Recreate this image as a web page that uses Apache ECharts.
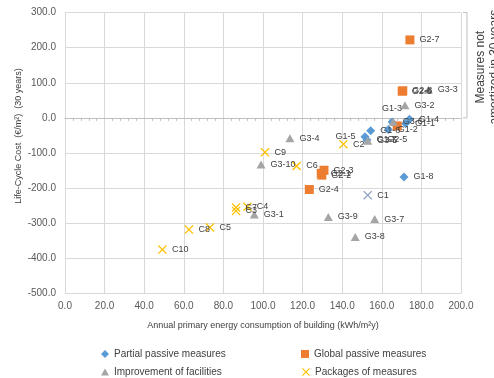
<!DOCTYPE html>
<html><head><meta charset="utf-8">
<script src="https://cdn.jsdelivr.net/npm/echarts@6/dist/echarts.min.js"></script>
<style>html,body{margin:0;padding:0;background:#fff}#c{width:494px;height:378px}</style>
</head><body><div id="c"></div>
<script>
// ---- data ----
const seriesNames = ['Partial passive measures', 'Global passive measures', 'Improvement of facilities', 'Packages of measures'];

const partialNames = ['G1-1','G1-2','G1-3','G1-4','G1-5','G1-6','G1-7','G1-8'];
const partialX     = [172.0, 163.3, 165.2, 174.0, 151.5, 154.4, 152.5, 171.2];
const partialY     = [-16, -33, -12, -4, -54, -37, -63, -168];

const globalNames = ['G2-1','G2-2','G2-3','G2-4','G2-5','G2-6','G2-7','G2-8'];
const globalX     = [129.4, 129.7, 130.8, 123.4, 167.8, 170.3, 174.2, 170.6];
const globalY     = [-158, -163, -149, -204, -23, 76, 222, 77];

const facilNames = ['G3-1','G3-2','G3-3','G3-4','G3-5','G3-6','G3-7','G3-8','G3-9','G3-10'];
const facilX     = [95.6, 171.7, 183.5, 113.6, 152.9, 165.8, 156.4, 146.6, 133.0, 99.0];
const facilY     = [-275, 36, 80, -58, -65, -11, -288, -339, -282, -133];

const packNames = ['C1','C2','C3','C4','C5','C6','C7','C8','C9','C10'];
const packX     = [152.9, 140.6, 86.4, 92.1, 73.2, 117.0, 86.4, 62.6, 101.0, 49.2];
const packY     = [-220, -75, -265, -253, -312, -137, -255, -318, -98, -375];

const xMin = 0, xMax = 200, xStep = 20;
const yMin = -500, yMax = 300, yStep = 100;
const xTitle = 'Annual primary energy consumption of building (kWh/m²y)';
const yTitle = 'Life-Cycle Cost  (€/m²)  (30 years)';
const noteText = 'Measures not\namortized in 30 years';
const noteFrom = 300, noteTo = 0;

// ---- styles (kept apart from data) ----
const FONT = 'Liberation Sans, Arial, sans-serif';
const labelTweaks = {
  'G1-2': {offset:[4,0]},
  'G1-3': {position:'top', offset:[6,7]},
  'G1-4': {offset:[2,-4]},
  'G1-5': {position:'left', offset:[4,-5]},
  'G1-6': {offset:[0,1]},
  'G1-7': {offset:[0,3]},
  'G2-1': {offset:[2,0]},
  'G2-2': {offset:[0,5]},
  'G2-3': {offset:[2,-5]},
  'G2-5': {position:'bottom', offset:[4,-2]},
  'G3-5': {offset:[0,7]},
  'G3-6': {offset:[14,7]},
  'C3':   {offset:[4,1]},
  'C4':   {offset:[2,0]},
  'C7':   {offset:[2,-4]}
};
const pointColors = {'C1': '#8FA2C4'};
const X_PATH = 'path://M0,1L1,0L5,4L9,0L10,1L6,5L10,9L9,10L5,6L1,10L0,9L4,5Z';

function build(names, xs, ys) {
  return names.map((n, i) => {
    const d = {name: n, value: [xs[i], ys[i]]};
    if (labelTweaks[n]) d.label = labelTweaks[n];
    if (pointColors[n]) d.itemStyle = {color: pointColors[n]};
    return d;
  });
}

const labelBase = {show:true, position:'right', distance:5, formatter:'{b}', fontSize:9, color:'#404040', fontFamily: FONT};

function scatter(name, symbol, size, color, data) {
  return {type:'scatter', name, symbol, symbolSize:size, itemStyle:{color, opacity:1},
    label: labelBase, data, emphasis:{disabled:true}, labelLayout:{hideOverlap:false}};
}

const legendCommon = {padding:0, itemGap:0, selectedMode:false,
  textStyle:{fontSize:10, color:'#404040', fontFamily: FONT}};

const chart = echarts.init(document.getElementById('c'), null, {renderer:'canvas'});
chart.setOption({
  animation:false,
  textStyle:{fontFamily: FONT},
  grid:{left:65, right:33, top:12.5, bottom:84.5, containLabel:false},
  xAxis:[
    {type:'value', min:xMin, max:xMax, interval:xStep,
     axisLine:{show:false, onZero:false}, axisTick:{show:false},
     splitLine:{show:true, lineStyle:{color:'#D9D9D9', width:1}},
     axisLabel:{formatter:v=>v.toFixed(1), fontSize:10, color:'#595959', margin:8},
     name: xTitle, nameLocation:'middle', nameGap:28,
     nameTextStyle:{fontSize:9, color:'#404040', fontFamily: FONT}},
    {type:'value', min:xMin, max:xMax, interval:xStep, position:'bottom',
     axisLine:{show:true, onZero:true, lineStyle:{color:'#BFBFBF', width:1}},
     axisTick:{show:false},
     minorTick:{show:true, splitNumber:5, length:3, lineStyle:{color:'#BFBFBF'}},
     axisLabel:{show:false}, splitLine:{show:false}}
  ],
  yAxis:{type:'value', min:yMin, max:yMax, interval:yStep,
    axisLine:{show:false}, axisTick:{show:false},
    splitLine:{show:true, lineStyle:{color:'#D9D9D9', width:1}},
    axisLabel:{formatter:v=>v.toFixed(1), fontSize:10, color:'#595959', margin:9}},
  legend:[
    Object.assign({data:[seriesNames[0]], left:101, top:349, icon:'diamond', itemWidth:8, itemHeight:8}, legendCommon),
    Object.assign({data:[seriesNames[1]], left:301, top:349, icon:'rect', itemWidth:8, itemHeight:8}, legendCommon),
    Object.assign({data:[seriesNames[2]], left:101, top:367, icon:'triangle', itemWidth:8, itemHeight:7}, legendCommon),
    Object.assign({data:[seriesNames[3]], left:302, top:367, icon:X_PATH, itemWidth:8, itemHeight:8}, legendCommon)
  ],
  series:[
    scatter(seriesNames[0], 'diamond', 9, '#5B9BD5', build(partialNames, partialX, partialY)),
    scatter(seriesNames[1], 'rect', 9, '#ED7D31', build(globalNames, globalX, globalY)),
    scatter(seriesNames[2], 'triangle', [9,8], '#A5A5A5', build(facilNames, facilX, facilY)),
    scatter(seriesNames[3], X_PATH, 9, '#FFC000', build(packNames, packX, packY))
  ]
});

// annotations placed through the axis scales
const yTop = chart.convertToPixel({yAxisIndex:0}, noteFrom);
const yZero = chart.convertToPixel({yAxisIndex:0}, noteTo);
const xRight = chart.convertToPixel({xAxisIndex:0}, xMax);
chart.setOption({
  graphic:[
    {type:'text', x:19, y:136, rotation:Math.PI/2,
     style:{text:yTitle, fontSize:9, fill:'#404040', align:'center', verticalAlign:'middle', fontFamily:FONT}},
    {type:'polyline', shape:{points:[[xRight+2, yTop],[xRight+6, yTop],[xRight+6, yZero],[xRight+2, yZero]]},
     style:{stroke:'#BFBFBF', lineWidth:1, fill:null}},
    {type:'text', x:xRight+27, y:(yTop+yZero)/2 + 2, rotation:Math.PI/2,
     style:{text:noteText, fontSize:12, lineHeight:14, fill:'#404040', align:'center', verticalAlign:'middle', fontFamily:FONT}}
  ]
});
</script>
</body></html>
